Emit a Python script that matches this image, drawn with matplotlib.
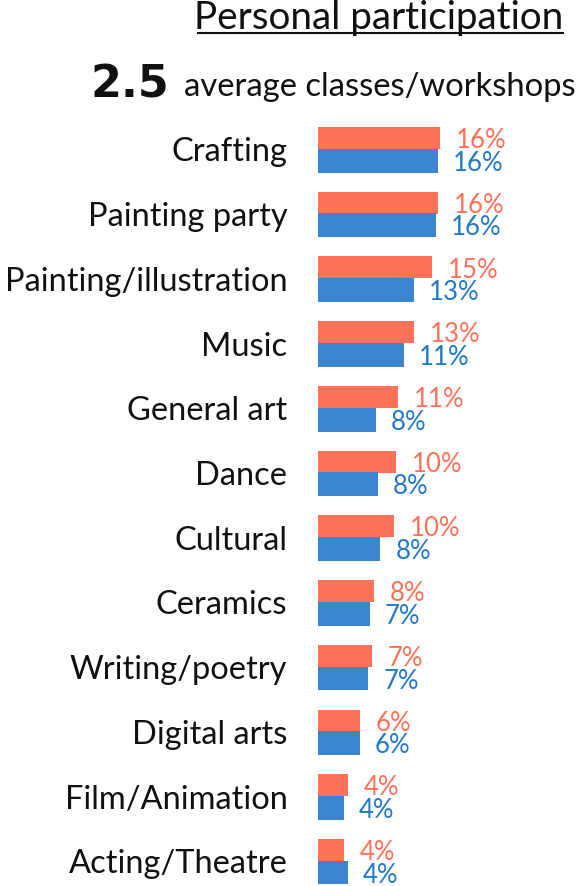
import matplotlib
matplotlib.use("Agg")
from matplotlib import pyplot as plt
import numpy as np

plt.rcParams['font.family'] = ['Lato', 'DejaVu Sans']

categories = ["Crafting", "Painting party", "Painting/illustration", "Music",
              "General art", "Dance", "Cultural", "Ceramics", "Writing/poetry",
              "Digital arts", "Film/Animation", "Acting/Theatre"]
orange_vals = [16.1, 15.8, 15.0, 12.6, 10.5, 10.2, 10.0, 7.4, 7.1, 5.5, 3.9, 3.4]
blue_vals = [15.8, 15.5, 12.6, 11.3, 7.6, 7.9, 8.2, 6.8, 6.6, 5.5, 3.4, 3.9]
orange_labels = ["16%", "16%", "15%", "13%", "11%", "10%", "10%", "8%", "7%", "6%", "4%", "4%"]
blue_labels = ["16%", "16%", "13%", "11%", "8%", "8%", "8%", "7%", "7%", "6%", "4%", "4%"]

ORANGE = "#FF715A"
BLUE = "#3A84D0"
BLUE_TXT = "#2278C8"
TXT = "#111111"

W, H = 578, 886
fig = plt.figure(figsize=(W / 100, H / 100), dpi=100)

# axes placed in pixel terms
left, right, top, bottom = 318, 578, 117, 884
ax = fig.add_axes([left / W, 1 - bottom / H, (right - left) / W, (bottom - top) / H])

y = np.arange(len(categories))
off = 0.175
ax.barh(y - off, orange_vals, height=0.34, color=ORANGE)
ax.barh(y + off, blue_vals, height=0.37, color=BLUE)

ax.set_xlim(0, (right - left) / 7.6)
ax.set_ylim(11.35, -0.5)

# value labels sit on baselines so the two rows don't collide
for i in range(len(categories)):
    ax.text(orange_vals[i] + 2.1, y[i] - 0.02, orange_labels[i], color=ORANGE,
            fontsize=18.5, va='baseline', ha='left')
    ax.text(blue_vals[i] + 2.0, y[i] + 0.33, blue_labels[i], color=BLUE_TXT,
            fontsize=18.5, va='baseline', ha='left')

ax.set_yticks(y)
ax.set_yticklabels(categories, fontsize=23.5, color=TXT)
ax.tick_params(axis='y', length=0, pad=22)
ax.set_xticks([])
for s in ax.spines.values():
    s.set_visible(False)

# headline texts
fig.text(563 / W, 1 - 29 / H, "Personal participation", fontsize=27.8, ha='right',
         va='baseline', color=TXT)
fig.add_artist(plt.Line2D([198 / W, 563 / W], [1 - 33 / H, 1 - 33 / H], color=TXT, lw=1.5))
fig.text(90 / W, 1 - 97 / H, "2.5", fontsize=32, fontweight='bold', family='DejaVu Sans',
         ha='left', va='baseline', color=TXT)
fig.text(576 / W, 1 - 96 / H, "average classes/workshops", fontsize=23.6, ha='right',
         va='baseline', color=TXT)

fig.savefig("out.png", dpi=100)
